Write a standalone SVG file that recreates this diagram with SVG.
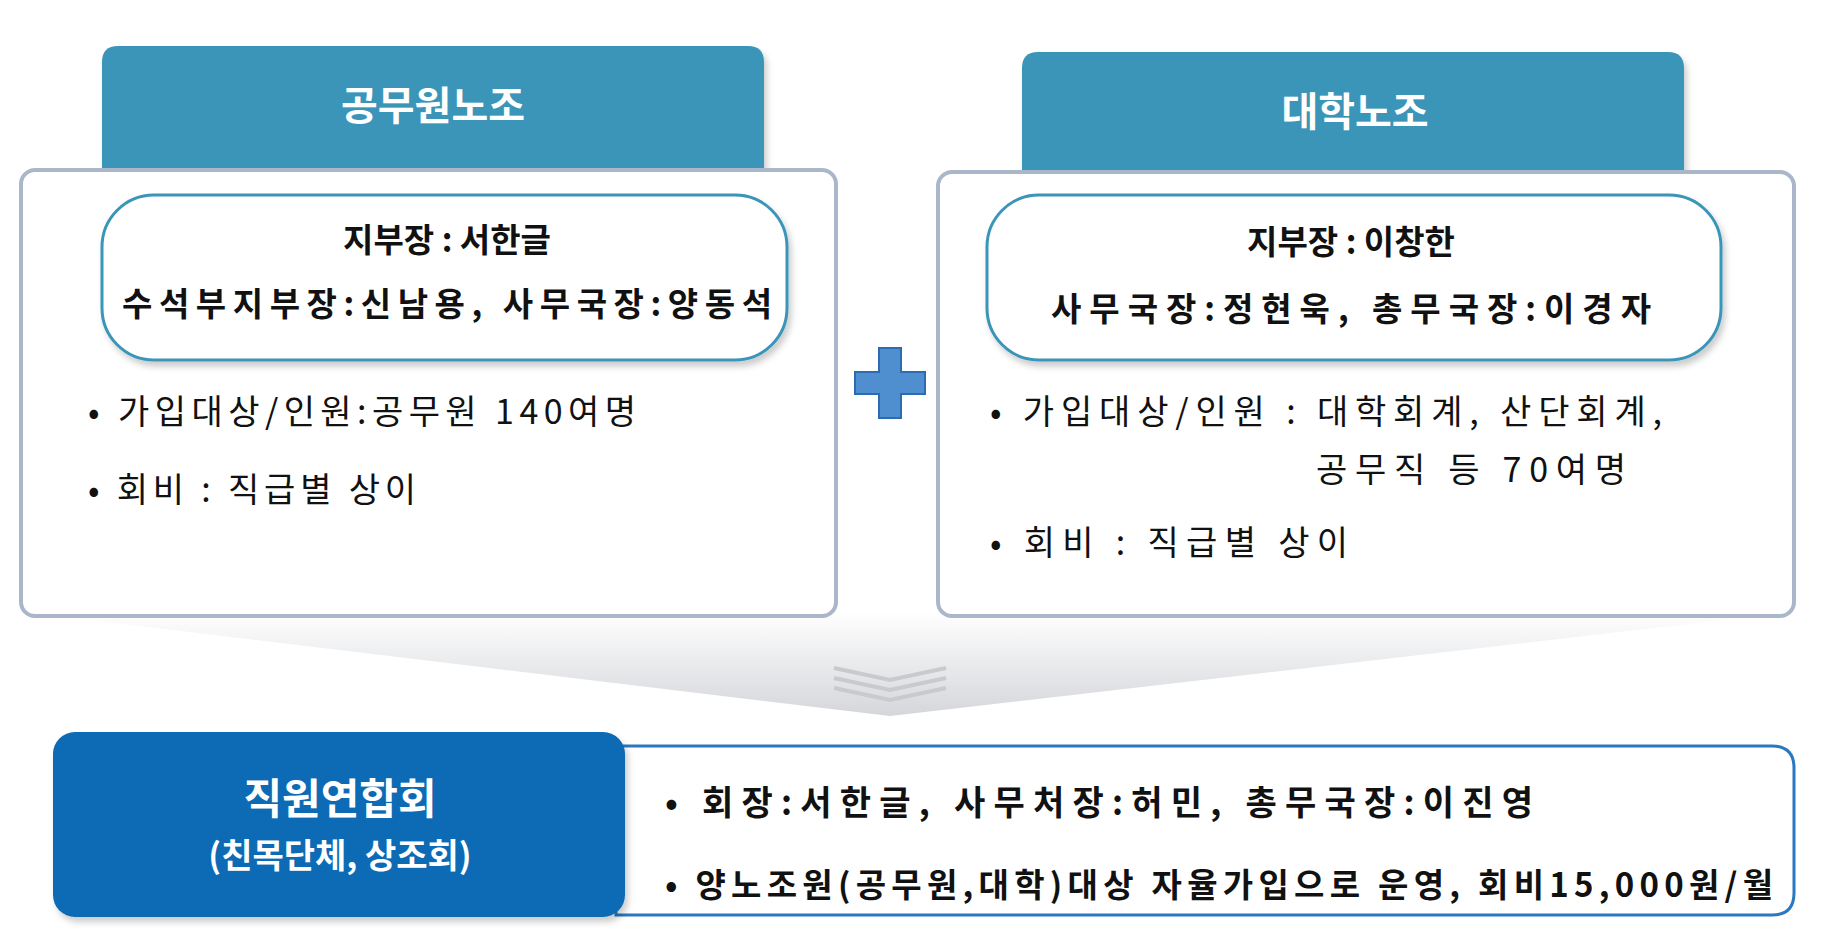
<svg xmlns="http://www.w3.org/2000/svg" width="1821" height="949" viewBox="0 0 1821 949">
<defs>
<linearGradient id="fun" x1="0" y1="0" x2="0" y2="1"><stop offset="0" stop-color="#ffffff"/><stop offset="1" stop-color="#d4d6da"/></linearGradient>
<filter id="sh" x="-5%" y="-5%" width="110%" height="120%"><feDropShadow dx="3" dy="5" stdDeviation="3" flood-color="#000" flood-opacity="0.2"/></filter>
</defs>
<style>
text{font-family:"Noto Sans CJK KR","Noto Sans",sans-serif;fill:#111}
.hd{font-size:40px;font-weight:bold;fill:#fff}
.in{font-size:33px;font-weight:bold}
.bl{font-size:34px}
.box{fill:#fff;stroke:#aab7cb;stroke-width:4}
.tab{fill:#3a95b8}
.inner{fill:#fff;stroke:#3a95b8;stroke-width:3}
</style>
<rect width="1821" height="949" fill="#fff"/>
<polygon points="23,612 1794,612 890,716" fill="url(#fun)"/>
<g id="chev" fill="none" stroke="#c8cacd" stroke-width="4">
<polyline points="834,668 890,680 946,668"/><polyline points="834,678 890,690 946,678"/><polyline points="834,688 890,700 946,688"/>
</g>
<g id="gongmuwon">
<path class="tab" d="M102,175 V62 Q102,46 118,46 H748 Q764,46 764,62 V175 Z" filter="url(#sh)"/>
<text class="hd" x="433" y="120" text-anchor="middle">공무원노조</text>
<rect class="box" x="21" y="170" width="815" height="446" rx="14"/>
<rect class="inner" x="102" y="195" width="685" height="165" rx="52" filter="url(#sh)"/>
<text class="in" x="447" y="252" text-anchor="middle">지부장 : 서한글</text>
<text class="in" x="447" y="316" text-anchor="middle" textLength="650">수석부지부장:신남용, 사무국장:양동석</text>
<text class="bl" x="88" y="424" textLength="548">• 가입대상/인원:공무원 140여명</text>
<text class="bl" x="88" y="502" textLength="328">• 회비 : 직급별 상이</text>
</g>
<g id="plus">
<path d="M879,348 H901 V372 H925 V394 H901 V418 H879 V394 H855 V372 H879 Z" fill="#4f8fd0" stroke="#2c6bb0" stroke-width="2"/>
</g>
<g id="daehak">
<path class="tab" d="M1022,178 V68 Q1022,52 1038,52 H1668 Q1684,52 1684,68 V178 Z" filter="url(#sh)"/>
<text class="hd" x="1355" y="126" text-anchor="middle">대학노조</text>
<rect class="box" x="938" y="172" width="856" height="444" rx="14"/>
<rect class="inner" x="987" y="195" width="734" height="165" rx="52" filter="url(#sh)"/>
<text class="in" x="1351" y="254" text-anchor="middle">지부장 : 이창한</text>
<text class="in" x="1351" y="321" text-anchor="middle" textLength="600">사무국장:정현욱, 총무국장:이경자</text>
<text class="bl" x="990" y="424" textLength="672">• 가입대상/인원 : 대학회계, 산단회계,</text>
<text class="bl" x="1316" y="482" textLength="310">공무직 등 70여명</text>
<text class="bl" x="990" y="555" textLength="358">• 회비 : 직급별 상이</text>
</g>
<g id="yeonhap">
<path d="M616,746 H1772 Q1794,746 1794,768 V893 Q1794,915 1772,915 H616 Z" fill="#fff" stroke="#2a78c0" stroke-width="3"/>
<rect x="53" y="732" width="572" height="185" rx="22" fill="#0b6ab4" filter="url(#sh)"/>
<text x="340" y="814" text-anchor="middle" font-size="42" font-weight="bold" style="fill:#fff">직원연합회</text>
<text x="340" y="868" text-anchor="middle" font-size="34" font-weight="bold" style="fill:#fff">(친목단체, 상조회)</text>
<text x="665" y="815" font-size="34" font-weight="bold" textLength="868">• 회장:서한글, 사무처장:허민, 총무국장:이진영</text>
<text x="665" y="897" font-size="33" font-weight="bold" textLength="1108">• 양노조원(공무원,대학)대상 자율가입으로 운영, 회비15,000원/월</text>
</g>
</svg>
